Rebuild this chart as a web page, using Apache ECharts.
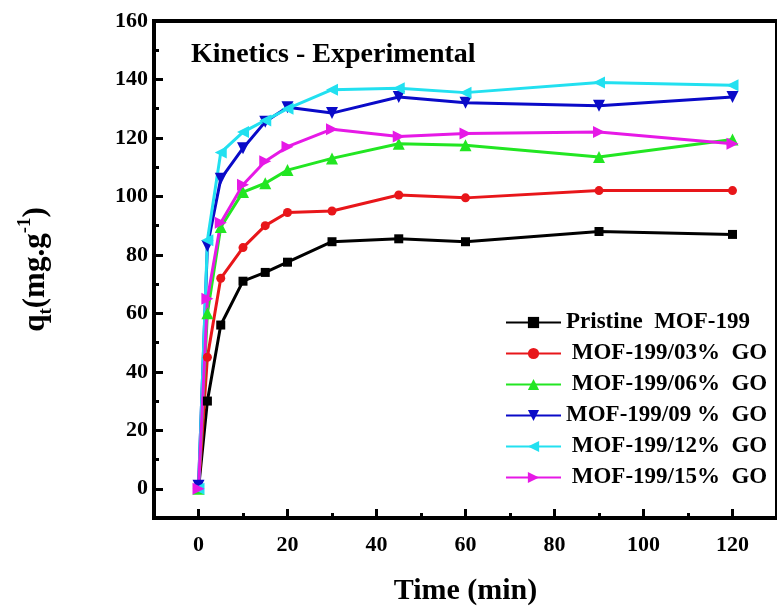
<!DOCTYPE html>
<html>
<head>
<meta charset="utf-8">
<script src="https://cdn.jsdelivr.net/npm/echarts@6/dist/echarts.min.js"></script>
<style>
  html, body { margin: 0; padding: 0; background: #fff; }
  #chart { width: 777px; height: 614px; }
</style>
</head>
<body>
<div id="chart"></div>
<script>
// contact time (min)
const timeMin = [0, 2, 5, 10, 15, 20, 30, 45, 60, 90, 120]
// qt (mg/g)
const pristine = [0, 30, 56, 71, 74, 77.5, 84.5, 85.5, 84.5, 88, 87]
const go03 = [0, 45, 72, 82.5, 90, 94.5, 95, 100.5, 99.5, 102, 102]
const go06 = [0, 60, 89.5, 101.5, 104.5, 109, 113, 118, 117.5, 113.5, 119.5]
const go09 = [1, 83, 106, 116.5, 125.5, 130.5, 128.5, 134, 132, 131, 134]
const go12 = [0, 85, 115, 122, 126, 130, 136.5, 137, 135.5, 139, 138]
const go15 = [0, 65, 91, 104, 112, 117, 123, 120.5, 121.5, 122, 118]

const seriesNames = ['Pristine  MOF-199', ' MOF-199/03%  GO', ' MOF-199/06%  GO', 'MOF-199/09 %  GO', ' MOF-199/12%  GO', ' MOF-199/15%  GO']

const xMajorTicks = [0, 20, 40, 60, 80, 100, 120]
const xMinorTicks = [10, 30, 50, 70, 90, 110, 130]
const yMajorTicks = [0, 20, 40, 60, 80, 100, 120, 140, 160]
const yMinorTicks = [10, 30, 50, 70, 90, 110, 130, 150]

const font = 'Liberation Serif, Times New Roman, serif'

function pairs(values) {
  return timeMin.map((t, i) => [t, values[i]])
}

// name, data, colour, symbol, rotation, size
const defs = [
  [seriesNames[0], pristine, '#000000', 'rect', 0, 9],
  [seriesNames[1], go03, '#e8161a', 'circle', 0, 9],
  [seriesNames[2], go06, '#22e622', 'triangle', 0, 12],
  [seriesNames[3], go09, '#0a0ac8', 'triangle', 180, 12],
  [seriesNames[4], go12, '#22e0f0', 'triangle', 90, 12],
  [seriesNames[5], go15, '#e619e6', 'triangle', -90, 12]
]

const chart = echarts.init(document.getElementById('chart'))

const tickLine = { color: '#000', width: 3 }

chart.setOption({
  animation: false,
  backgroundColor: '#fff',
  title: {
    text: 'Kinetics - Experimental',
    left: 186,
    top: 36,
    textStyle: { fontFamily: font, fontWeight: 'bold', fontSize: 28, color: '#000' }
  },
  legend: {
    orient: 'vertical',
    left: 500,
    top: 306,
    itemWidth: 55,
    itemHeight: 14,
    itemGap: 8,
    textStyle: { fontFamily: font, fontWeight: 'bold', fontSize: 23, color: '#000', lineHeight: 23 },
    data: seriesNames
  },
  grid: {
    left: 154,
    right: -5,
    top: 21,
    bottom: 96,
    show: true,
    borderColor: '#000',
    borderWidth: 4,
    containLabel: false
  },
  xAxis: [
    {
      type: 'value',
      min: -10,
      max: 130,
      name: 'Time (min)',
      nameLocation: 'middle',
      nameGap: 58,
      nameTextStyle: { fontFamily: font, fontWeight: 'bold', fontSize: 30, color: '#000' },
      axisLine: { show: true, onZero: false, lineStyle: { color: '#000', width: 4 } },
      axisTick: { show: true, inside: true, length: 9, lineStyle: tickLine, customValues: xMajorTicks },
      axisLabel: { customValues: xMajorTicks, margin: 16, fontFamily: font, fontWeight: 'bold', fontSize: 22, color: '#000' },
      splitLine: { show: false }
    },
    {
      type: 'value',
      min: -10,
      max: 130,
      position: 'bottom',
      axisLine: { show: false, onZero: false },
      axisTick: { show: true, inside: true, length: 5, lineStyle: tickLine, customValues: xMinorTicks },
      axisLabel: { show: false },
      splitLine: { show: false }
    }
  ],
  yAxis: [
    {
      type: 'value',
      min: -10,
      max: 160,
      name: '{b|q}{sub|t}{b|(mg.g}{sup|-1}{b|)}',
      nameLocation: 'middle',
      nameRotate: 90,
      nameGap: 98,
      nameTextStyle: {
        fontFamily: font, fontWeight: 'bold', color: '#000',
        rich: {
          b: { fontFamily: font, fontWeight: 'bold', fontSize: 31, color: '#000', lineHeight: 40 },
          sub: { fontFamily: font, fontWeight: 'bold', fontSize: 19, color: '#000', lineHeight: 40, verticalAlign: 'bottom', padding: [12, 0, 0, 0] },
          sup: { fontFamily: font, fontWeight: 'bold', fontSize: 19, color: '#000', lineHeight: 40, verticalAlign: 'top', padding: [0, 0, 12, 0] }
        }
      },
      axisLine: { show: true, onZero: false, lineStyle: { color: '#000', width: 4 } },
      axisTick: { show: true, inside: true, length: 9, lineStyle: tickLine, customValues: yMajorTicks },
      axisLabel: { customValues: yMajorTicks, margin: 6, fontFamily: font, fontWeight: 'bold', fontSize: 22, color: '#000' },
      splitLine: { show: false }
    },
    {
      type: 'value',
      min: -10,
      max: 160,
      position: 'left',
      axisLine: { show: false, onZero: false },
      axisTick: { show: true, inside: true, length: 5, lineStyle: tickLine, customValues: yMinorTicks },
      axisLabel: { show: false },
      splitLine: { show: false }
    }
  ],
  series: defs.map(d => ({
    name: d[0],
    type: 'line',
    xAxisIndex: 0,
    yAxisIndex: 0,
    data: pairs(d[1]),
    symbol: d[3],
    symbolRotate: d[4],
    symbolSize: d[5],
    showAllSymbol: true,
    lineStyle: { color: d[2], width: 3 },
    itemStyle: { color: d[2] }
  }))
})
</script>
</body>
</html>
